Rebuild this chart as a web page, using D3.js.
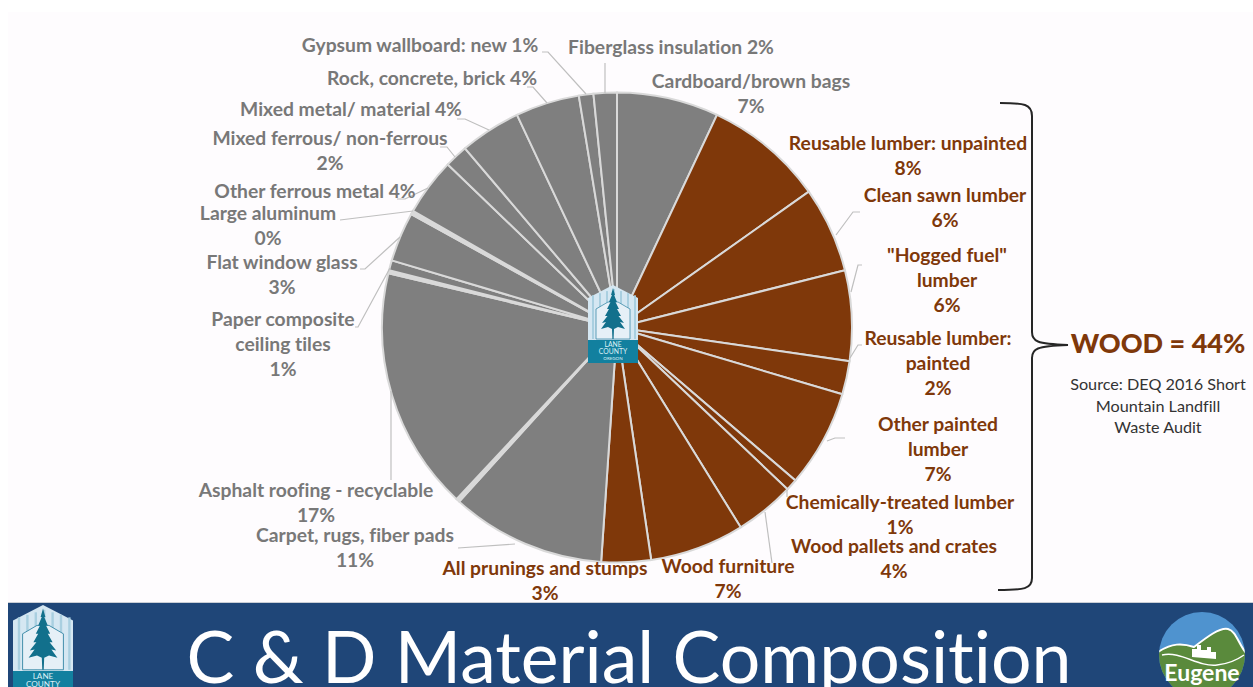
<!DOCTYPE html>
<html>
<head>
<meta charset="utf-8">
<script src="https://cdn.jsdelivr.net/npm/d3@7"></script>
<style>
  html, body { margin: 0; padding: 0; background: #fff; overflow: hidden; }
  text { font-family: Lato, "Open Sans", sans-serif; font-variant-ligatures: none; }
</style>
</head>
<body>
<div id="chart"></div>
<script>
// slices run clockwise from 12 o'clock. empty names are the pale slivers in the original
const categories = ["Cardboard/brown bags", "Reusable lumber: unpainted", "Clean sawn lumber", "Hogged fuel lumber",
  "Reusable lumber: painted", "Other painted lumber", "Chemically-treated lumber", "Wood pallets and crates",
  "Wood furniture", "All prunings and stumps", "Carpet, rugs, fiber pads", "", "Asphalt roofing - recyclable", "",
  "Paper composite ceiling tiles", "Flat window glass", "Large aluminum", "Other ferrous metal",
  "Mixed ferrous/ non-ferrous", "Mixed metal/ material", "Rock, concrete, brick", "Gypsum wallboard: new", "Fiberglass insulation"];
const values = [7.0, 8.2, 5.9, 6.2, 2.3, 6.7, 0.8, 4.1, 6.5, 3.4, 10.65, 0.25, 16.75, 0.2, 0.7, 3.4, 0.25, 3.95, 1.6, 4.2, 4.4, 1.0, 1.6];
const groups = ["other", "wood", "wood", "wood", "wood", "wood", "wood", "wood", "wood", "wood", "other", "gap", "other", "gap",
  "other", "other", "gap", "other", "other", "other", "other", "other", "other"];

// label text, one entry per line
const labelText = [
  ["Gypsum wallboard: new 1%"], ["Fiberglass insulation 2%"], ["Cardboard/brown bags", "7%"],
  ["Rock, concrete, brick 4%"], ["Mixed metal/ material 4%"], ["Mixed ferrous/ non-ferrous", "2%"],
  ["Other ferrous metal 4%"], ["Large aluminum", "0%"], ["Flat window glass", "3%"],
  ["Paper composite", "ceiling tiles", "1%"], ["Asphalt roofing - recyclable", "17%"], ["Carpet, rugs, fiber pads", "11%"],
  ["All prunings and stumps", "3%"], ["Wood furniture", "7%"], ["Wood pallets and crates", "4%"],
  ["Chemically-treated lumber", "1%"], ["Other painted", "lumber", "7%"], ["Reusable lumber:", "painted", "2%"],
  ["\"Hogged fuel\"", "lumber", "6%"], ["Clean sawn lumber", "6%"], ["Reusable lumber: unpainted", "8%"]
];
const labelGroups = ["other", "other", "other", "other", "other", "other", "other", "other", "other", "other", "other", "other",
  "wood", "wood", "wood", "wood", "wood", "wood", "wood", "wood", "wood"];

const sourceLines = ["Source: DEQ 2016 Short", "Mountain Landfill", "Waste Audit"];

const width = 1253, height = 687;
const cx = 617, cy = 327.5, radius = 235;
const brown = "#7f380a", gray = "#7f7f7f", pale = "#d9d9d9";

// x center + first baseline for each label, same order as labelText
const labelPos = [[420, 52], [671, 54], [751, 88], [432, 85], [351, 116], [330, 145], [315, 198], [268, 220], [282, 269],
  [283, 326], [316, 497], [355, 542], [545, 575], [728, 573], [894, 553], [900, 509], [938, 431], [938, 345], [947, 262], [945, 202], [908, 150]];
const lineGap = 25;

const leaders = [
  [[542, 52], [548, 52], [586, 94]], [[605, 63], [605, 93]], [[527, 87], [533, 87], [547, 103]],
  [[457, 119], [465, 119], [489, 130]], [[440, 147], [447, 147], [455, 157]], [[397, 199], [405, 199], [428, 188]],
  [[340, 220], [413, 211]], [[360, 269], [365, 269], [400, 237]], [[355, 327], [358, 327], [390, 268]],
  [[391, 391], [391, 480]], [[458, 548], [515, 544]], [[765, 512], [772, 563]], [[787, 490], [787, 497]],
  [[827, 441], [835, 438], [845, 438]], [[850, 358], [858, 345], [862, 345]], [[851, 292], [858, 265], [862, 265]],
  [[836, 235], [853, 212], [860, 212]]
];

const svg = d3.select("#chart").append("svg")
  .attr("width", width)
  .attr("height", height)
  .style("display", "block");

svg.append("rect").attr("width", width).attr("height", height).attr("fill", "#fff");
svg.append("rect").attr("x", 8).attr("y", 12).attr("width", width - 8).attr("height", 592).attr("fill", "#fefcfe");

// pie
let pie = d3.pie().sort(null).value(i => values[i]);
let arc = d3.arc().innerRadius(0).outerRadius(radius);
let color = d3.scaleOrdinal().domain(["wood", "other", "gap"]).range([brown, gray, pale]);

svg.append("g")
  .attr("transform", `translate(${cx},${cy})`)
  .selectAll("path")
  .data(pie(d3.range(values.length)))
  .join("path")
  .attr("d", arc)
  .attr("fill", d => color(groups[d.data]))
  .attr("stroke", pale)
  .attr("stroke-width", 2);

// leader lines
let leaderLine = d3.line().curve(d3.curveLinear);
svg.append("g").selectAll("path")
  .data(leaders)
  .join("path")
  .attr("d", leaderLine)
  .attr("fill", "none")
  .attr("stroke", "#bfbfbf")
  .attr("stroke-width", 1.2);

// labels
labelText.forEach((lines, i) => {
  let t = svg.append("text")
    .attr("text-anchor", "middle")
    .attr("font-size", 19.3)
    .attr("font-weight", 700)
    .attr("fill", labelGroups[i] === "wood" ? brown : "#787878");
  lines.forEach((line, j) => {
    t.append("tspan")
      .attr("x", labelPos[i][0])
      .attr("y", labelPos[i][1] + j * lineGap)
      .text(line);
  });
});

// brace round the wood slices
svg.append("path")
  .attr("d", "M1000,103 C1024,103 1032,104 1032,116 L1032,332 C1032,341 1036,344 1068,345 C1036,346 1032,349 1032,358 L1032,578 C1032,589 1024,590 998,590")
  .attr("fill", "none")
  .attr("stroke", "#262626")
  .attr("stroke-width", 2);

svg.append("text")
  .attr("x", 1158).attr("y", 353)
  .attr("text-anchor", "middle")
  .attr("font-size", 27)
  .attr("font-weight", 900)
  .attr("fill", brown)
  .text("WOOD = 44%");

sourceLines.forEach((line, i) => {
  svg.append("text")
    .attr("x", 1158).attr("y", 390 + i * 21.5)
    .attr("text-anchor", "middle")
    .attr("font-size", 16.2)
    .attr("fill", "#333")
    .text(line);
});

// title banner
svg.append("rect").attr("x", 8).attr("y", 602).attr("width", width - 8).attr("height", 2).attr("fill", "#c9ced6");
svg.append("rect").attr("x", 8).attr("y", 603).attr("width", width - 8).attr("height", 84).attr("fill", "#1f4678");

svg.append("text")
  .attr("x", 629).attr("y", 683)
  .attr("text-anchor", "middle")
  .attr("font-size", 71.6)
  .attr("fill", "#fff")
  .text("C & D Material Composition");

// county badge, drawn in a 50 wide box with origin at top left
function badge(x, y, k) {
  let g = svg.append("g").attr("transform", `translate(${x},${y}) scale(${k})`);
  g.append("path").attr("d", "M0,13 L25,0 L50,13 L50,55 L0,55 Z").attr("fill", "#d5e7f2");
  d3.range(4, 50, 7).forEach(sx => {
    g.append("rect").attr("x", sx).attr("y", 4 + Math.abs(sx - 25) * 0.3).attr("width", 2).attr("height", 50 - Math.abs(sx - 25) * 0.3).attr("fill", "#a9cfe0");
  });
  g.append("path").attr("d", "M8,54 L8,24 L20,17 L30,17 L42,24 L42,54 Z").attr("fill", "#e6f0f7").attr("stroke", "#3d8ba8").attr("stroke-width", 0.8);
  g.append("path")
    .attr("d", "M25,3 L27,10 L26,10 L29,17 L27.5,17 L31,24 L29,24 L33,31 L30.5,31 L36,38 L32,37 L37,44 L30,42 L26,44 L25.6,54 L24.4,54 L24,44 L20,42 L13,44 L18,37 L14,38 L19.5,31 L17,31 L21,24 L19,24 L22.5,17 L21,17 L24,10 L23,10 Z")
    .attr("fill", "#12708c");
  g.append("rect").attr("y", 55).attr("width", 50).attr("height", 23).attr("fill", "#12809f");
  ["LANE", "COUNTY", "OREGON"].forEach((s, i) => {
    g.append("text").attr("x", 25).attr("y", 62 + i * 6.5).attr("text-anchor", "middle")
      .attr("font-size", i == 2 ? 4.5 : 6.8).attr("fill", "#dff0f6").text(s);
  });
}
badge(588, 285, 1);
badge(13, 605, 1.2);

// Eugene badge
let e = svg.append("g").attr("transform", "translate(1202,655)");
svg.append("clipPath").attr("id", "eugClip").append("circle").attr("r", 43);
let inner = e.append("g").attr("clip-path", "url(#eugClip)");
inner.append("rect").attr("x", -44).attr("y", -44).attr("width", 88).attr("height", 88).attr("fill", "#4f93cf");
inner.append("path")
  .attr("d", "M-44,-3 C-30,-12 -20,-12 -8,-8 C5,-18 18,-28 26,-26 C34,-24 36,-12 44,-2 L44,44 L-44,44 Z")
  .attr("fill", "#5a8a3c").attr("stroke", "#fff").attr("stroke-width", 2);
inner.append("path").attr("d", "M-40,0 C-20,-4 -5,12 15,10 C25,9 35,5 42,0").attr("fill", "none").attr("stroke", "#fff").attr("stroke-width", 1.5);
inner.append("path").attr("d", "M-10,2 L-10,-6 L-5,-6 L-5,-10 L-1,-10 L-1,-5 L5,-5 L5,-8 L9,-8 L9,-3 L14,-3 L14,4 Z").attr("fill", "#fff");
e.append("text").attr("x", 0).attr("y", 26).attr("text-anchor", "middle").attr("font-size", 23).attr("font-weight", 700).attr("fill", "#fff").text("Eugene");
</script>
</body>
</html>
